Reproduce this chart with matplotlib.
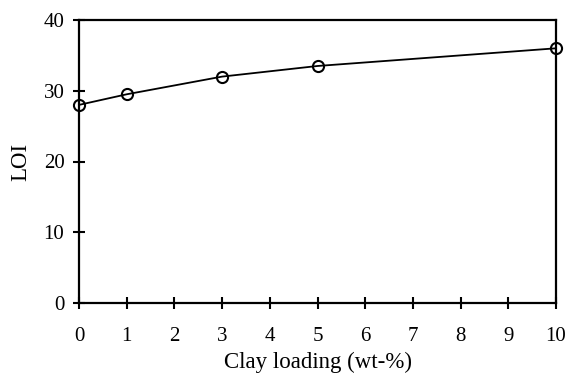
import matplotlib
matplotlib.use("Agg")
import matplotlib.pyplot as plt

# data
clay_loading = [0, 1, 3, 5, 10]
loi = [28, 29.5, 32, 33.5, 36]
x_ticks = list(range(0, 11))
y_ticks = [0, 10, 20, 30, 40]

plt.rcParams['font.family'] = ['Liberation Serif', 'DejaVu Serif']

fig = plt.figure(figsize=(5.67, 3.75), dpi=100)
ax = fig.add_axes([79 / 567, 1 - 303 / 375, (556 - 79) / 567, (303 - 20) / 375])

ax.plot(clay_loading, loi, color='black', lw=1.3, marker='o', ms=8,
        mfc='none', mec='black', mew=1.5, clip_on=False, zorder=3)

ax.set_xlim(0, 10)
ax.set_ylim(0, 40)
ax.set_xticks(x_ticks)
ax.set_yticks(y_ticks)
ax.tick_params(direction='inout', length=9, width=1.5, labelsize=15,
               top=False, right=False)
ax.tick_params(axis='x', pad=13)
ax.tick_params(axis='y', pad=6)
for s in ax.spines.values():
    s.set_linewidth(1.6)

ax.set_xlabel("Clay loading (wt-%)", fontsize=16.5, labelpad=4)
ax.set_ylabel("LOI", fontsize=16.5, labelpad=9)

fig.savefig("out.png", dpi=100)
